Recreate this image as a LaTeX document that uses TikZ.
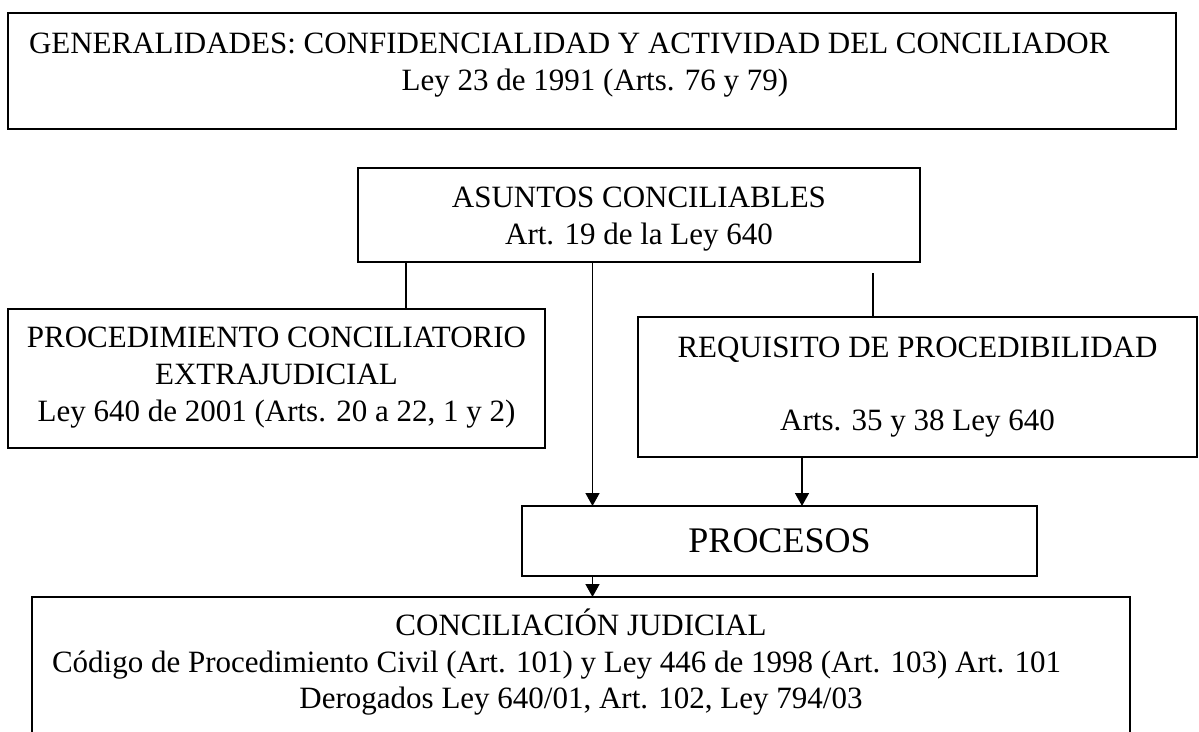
\documentclass[tikz,border=0pt]{standalone}
\usepackage{fontspec}
\setmainfont{Liberation Serif}
\usetikzlibrary{arrows.meta}
\tikzset{
  box/.style={draw, line width=1.7pt, inner sep=0pt, outer sep=0pt},
  txt/.style={inner sep=0pt, outer sep=0pt, anchor=base, font=\fontsize{31}{37}\selectfont},
  big/.style={inner sep=0pt, outer sep=0pt, anchor=base, font=\fontsize{36}{42}\selectfont},
  conn/.style={line width=1.5pt},
  arr/.style={line width=1.5pt, -{Triangle[length=13pt,width=14pt]}}
}
\begin{document}
\begin{tikzpicture}[x=1pt,y=-1pt]
\useasboundingbox (0,0) rectangle (1199,731);
% boxes
\node[box, minimum width=1168pt, minimum height=116pt] (gen) at (592,71) {};
\node[box, minimum width=562pt, minimum height=94pt] (asuntos) at (639,215) {};
\node[box, minimum width=537pt, minimum height=139pt] (proc) at (276.5,378.5) {};
\node[box, minimum width=559pt, minimum height=140pt] (req) at (917.5,387) {};
\node[box, minimum width=515pt, minimum height=70pt] (procesos) at (779.5,541) {};
\node[inner sep=0pt, outer sep=0pt, minimum width=1098pt, minimum height=140pt] (conc) at (581,667) {};
\draw[line width=1.7pt] (conc.south west) -- (conc.north west) -- (conc.north east) -- (conc.south east);
% texts
\node[txt, anchor=base west] (g1) at (29,53) {GENERALIDADES: CONFIDENCIALIDAD Y ACTIVIDAD DEL CONCILIADOR};
\node[txt] (g2) at (595,90) {Ley 23 de 1991 (Arts. 76 y 79)};
\node[txt] (a1) at (639,207) {ASUNTOS CONCILIABLES};
\node[txt] (a2) at (639,244) {Art. 19 de la Ley 640};
\node[txt] (p1) at (276.5,347) {PROCEDIMIENTO CONCILIATORIO};
\node[txt] (p2) at (276.5,384) {EXTRAJUDICIAL};
\node[txt] (p3) at (276.5,421) {Ley 640 de 2001 (Arts. 20 a 22, 1 y 2)};
\node[txt] (r1) at (917.5,357) {REQUISITO DE PROCEDIBILIDAD};
\node[txt] (r2) at (917.5,430) {Arts. 35 y 38 Ley 640};
\node[big] (pr) at (779.5,552) {PROCESOS};
\node[txt] (c1t) at (581,635) {CONCILIACIÓN JUDICIAL};
\node[txt, anchor=base west] (c2t) at (52,672) {Código de Procedimiento Civil (Art. 101) y Ley 446 de 1998 (Art. 103) Art. 101};
\node[txt] (c3t) at (581,708) {Derogados Ley 640/01, Art. 102, Ley 794/03};
% connectors
\coordinate (xl) at (406,0);
\coordinate (xm) at (592.5,0);
\coordinate (xr) at (802,0);
\coordinate (rtop) at (873,273);
\draw[conn] (asuntos.south -| xl) -- (proc.north -| xl);
\draw[conn] (rtop) -- (req.north -| rtop);
\draw[arr] (asuntos.south -| xm) -- (procesos.north -| xm);
\draw[arr] (req.south -| xr) -- (procesos.north -| xr);
\draw[arr] (procesos.south -| xm) -- (conc.north -| xm);
\end{tikzpicture}
\end{document}
